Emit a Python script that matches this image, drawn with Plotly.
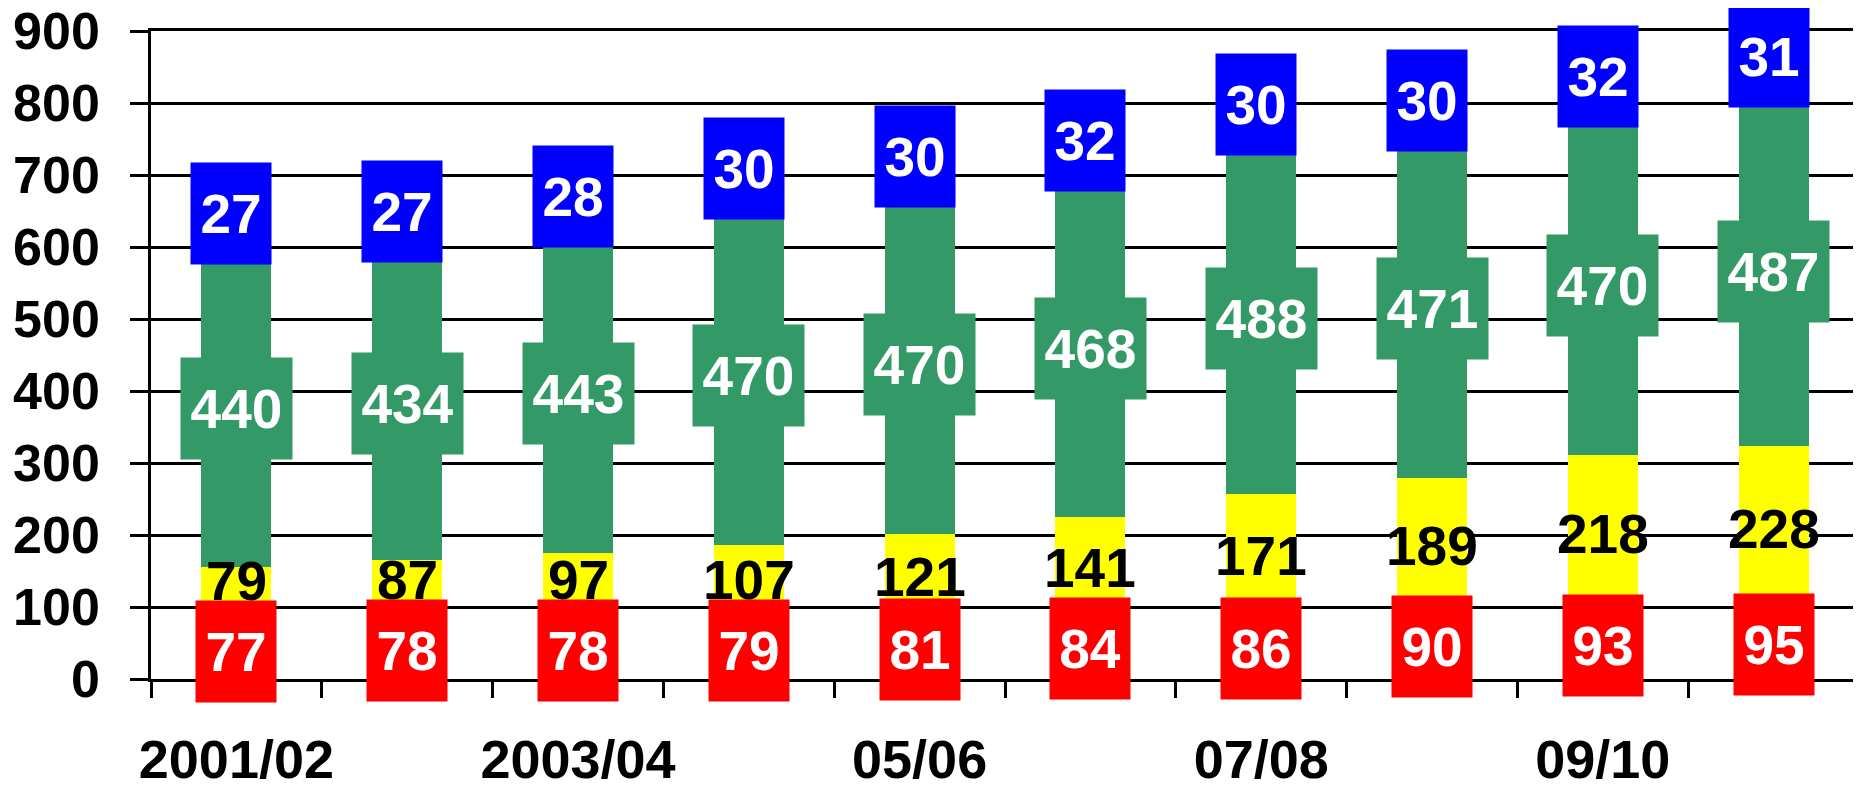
import plotly.graph_objects as go

categories = ["2001/02", "2002/03", "2003/04", "2004/05", "05/06",
              "06/07", "07/08", "08/09", "09/10", "10/11"]
red_vals = [77, 78, 78, 79, 81, 84, 86, 90, 93, 95]
yellow_vals = [79, 87, 97, 107, 121, 141, 171, 189, 218, 228]
green_vals = [440, 434, 443, 470, 470, 468, 488, 471, 470, 487]
blue_vals = [27, 27, 28, 30, 30, 32, 30, 30, 32, 31]
shown_ticks = ["2001/02", "2003/04", "05/06", "07/08", "09/10"]

RED = "#FF0000"
YELLOW = "#FFFF00"
GREEN = "#339966"
BLUE = "#0000FF"
FONT = "Liberation Sans, Arial, sans-serif"
LBL = 55
LW = 2.5

x = list(range(len(categories)))
fig = go.Figure()
for vals, col in [(red_vals, RED), (yellow_vals, YELLOW), (green_vals, GREEN), (blue_vals, BLUE)]:
    fig.add_trace(go.Bar(x=x, y=vals, marker=dict(color=col, line=dict(width=0)),
                         width=0.41, showlegend=False, hoverinfo="skip"))

# empty trace to host the boundary-tick axis
fig.add_trace(go.Scatter(x=[], y=[], xaxis="x2", showlegend=False))

ann = []
for i in x:
    r, yl, g, b = red_vals[i], yellow_vals[i], green_vals[i], blue_vals[i]
    ann.append(dict(x=i, y=r / 2, text=str(r), showarrow=False, bgcolor=RED,
                    width=80, height=101, borderpad=0,
                    font=dict(color="white", size=LBL, family=FONT, weight="bold")))
    yy = max(r + yl / 2, r / 2 + 98)
    ann.append(dict(x=i, y=yy, text=str(yl), showarrow=False,
                    font=dict(color="black", size=LBL, family=FONT, weight="bold")))
    ann.append(dict(x=i, y=r + yl + g / 2, text=str(g), showarrow=False, bgcolor=GREEN,
                    width=111, height=101, borderpad=0,
                    font=dict(color="white", size=LBL, family=FONT, weight="bold")))
    ann.append(dict(x=i, y=r + yl + g + b, text=str(b), showarrow=False, bgcolor=BLUE,
                    width=80, height=101, borderpad=0, yshift=17, xshift=-5,
                    font=dict(color="white", size=LBL, family=FONT, weight="bold")))

tick_idx = [categories.index(t) for t in shown_ticks]
bounds = [i - 0.5 for i in x] + [len(x) - 0.5]

# page body has an 8px margin; size the figure so the plot lands where the reference has it
fig.update_layout(
    barmode="stack",
    width=1853, height=784,
    margin=dict(l=143, r=2, t=23, b=113),
    plot_bgcolor="white", paper_bgcolor="white",
    annotations=ann,
    xaxis=dict(range=[-0.5, len(x) - 0.5], tickvals=tick_idx, ticktext=shown_ticks,
               ticks="", showgrid=False, zeroline=False, showline=True, mirror=True,
               linecolor="black", linewidth=LW, ticklabelstandoff=31, automargin=False,
               ticklabeloverflow="allow",
               tickfont=dict(size=54, family=FONT, color="black", weight="bold")),
    xaxis2=dict(range=[-0.5, len(x) - 0.5], overlaying="x", anchor="y", side="bottom",
                tickvals=bounds, ticks="outside", ticklen=18, tickwidth=LW,
                tickcolor="black", showticklabels=False, showgrid=False,
                zeroline=False, showline=False, automargin=False),
    yaxis=dict(range=[0, 900], dtick=100, tick0=0,
               showgrid=True, gridcolor="black",
               gridwidth=LW, zeroline=False, showline=True, linecolor="black",
               linewidth=LW, mirror=True, ticks="outside", ticklen=18, tickwidth=LW,
               tickcolor="black", ticklabelstandoff=20, automargin=False,
               ticklabeloverflow="allow",
               tickfont=dict(size=52, family=FONT, color="black", weight="bold")),
)

fig.write_html("out.html")
